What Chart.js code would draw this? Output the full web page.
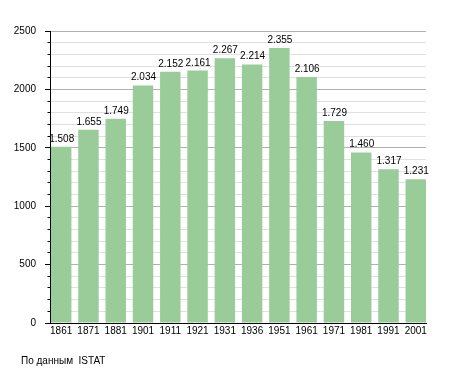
<!DOCTYPE html>
<html>
<head>
<meta charset="utf-8">
<script src="https://cdn.jsdelivr.net/npm/chart.js@4/dist/chart.umd.min.js"></script>
<style>
  html, body { margin: 0; padding: 0; background: #fff; }
  #wrap { position: relative; width: 455px; height: 373px; }
  #note { position: absolute; left: 21px; top: 356px; font: 10px "Liberation Sans", Arial, sans-serif; line-height: 10px; color: #000; white-space: pre; }
</style>
</head>
<body>
<div id="wrap">
  <canvas id="c" width="455" height="373"></canvas>
  <div id="note">По данным  ISTAT</div>
</div>
<script>
const years = ['1861','1871','1881','1901','1911','1921','1931','1936','1951','1961','1971','1981','1991','2001'];
const population = [1508, 1655, 1749, 2034, 2152, 2161, 2267, 2214, 2355, 2106, 1729, 1460, 1317, 1231];
const yTicks = [0, 500, 1000, 1500, 2000, 2500];

const FONT = '"Liberation Sans", Arial, sans-serif';

function fmt(v) {
  return String(v).replace(/\B(?=(\d{3})+(?!\d))/g, '.');
}

const valueLabels = {
  id: 'valueLabels',
  afterDatasetsDraw(chart) {
    const ctx = chart.ctx;
    const meta = chart.getDatasetMeta(0);
    ctx.save();
    ctx.font = '10px ' + FONT;
    ctx.fillStyle = '#000';
    ctx.textAlign = 'center';
    ctx.textBaseline = 'alphabetic';
    meta.data.forEach((bar, i) => {
      ctx.fillText(fmt(population[i]), bar.x + 0.5, bar.y - 5);
    });
    ctx.restore();
  }
};

new Chart(document.getElementById('c'), {
  type: 'bar',
  data: {
    datasets: [{
      data: population.map((v, i) => ({ x: i, y: v })),
      backgroundColor: '#99cc99',
      borderWidth: 0,
      categoryPercentage: 1,
      barPercentage: 0.75
    }]
  },
  plugins: [valueLabels],
  options: {
    responsive: false,
    animation: false,
    events: [],
    layout: { padding: { left: 0, right: 29, top: 31, bottom: 30 } },
    plugins: { legend: { display: false }, tooltip: { enabled: false } },
    scales: {
      x: {
        type: 'linear',
        offset: false,
        min: -0.41,
        max: 13.375,
        afterBuildTicks: (scale) => { scale.ticks = years.map((_, i) => ({ value: i })); },
        afterFit: (axis) => { axis.height = 20; },
        grid: { display: false, drawTicks: false },
        border: { display: true, color: '#000', width: 1 },
        ticks: {
          autoSkip: false,
          maxRotation: 0,
          padding: 2,
          color: '#000',
          font: { family: FONT, size: 10 },
          callback: (v) => years[v] !== undefined ? years[v] : ''
        }
      },
      y: {
        min: 0,
        max: 2500,
        afterFit: (axis) => { axis.width = 50; },
        border: { display: true, color: '#000', width: 1 },
        grid: {
          color: (c) => (c.tick && c.tick.value % 500 === 0) ? '#b0b0b0' : '#e0e0e0',
          tickLength: 5,
          tickColor: '#000',
          tickBorderDash: (c) => (c.tick && c.tick.value % 500 === 0) ? [] : [0, 2.5, 2.5, 20]
        },
        ticks: {
          stepSize: 100,
          autoSkip: false,
          padding: 9,
          color: '#000',
          font: { family: FONT, size: 10 },
          callback: (v) => yTicks.includes(v) ? String(v) : ''
        }
      }
    }
  }
});
</script>
</body>
</html>
